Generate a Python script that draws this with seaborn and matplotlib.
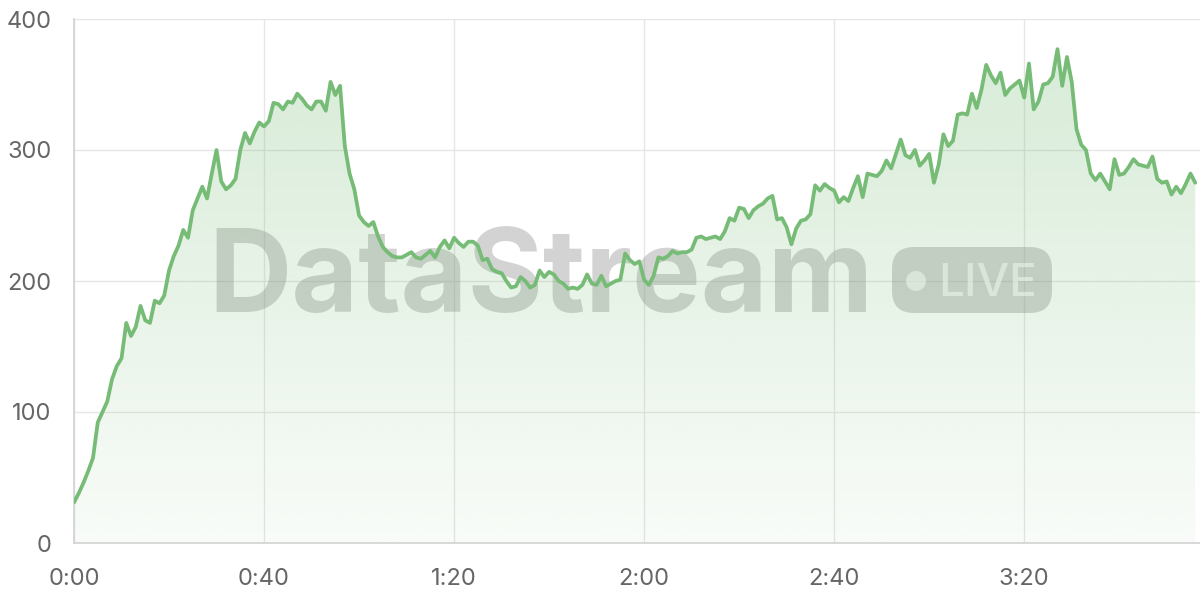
import numpy as np
import matplotlib
matplotlib.use("Agg")
import matplotlib.pyplot as plt
from matplotlib.patches import FancyBboxPatch, Circle
from matplotlib.transforms import IdentityTransform
import seaborn as sns

# viewers per minute over the stream
minutes = np.arange(237)
viewers = [
    31, 38, 46, 55, 65, 92, 100, 108, 125, 135,
    141, 168, 158, 165, 181, 170, 168, 185, 183, 189,
    208, 219, 227, 239, 233, 254, 263, 272, 263, 282,
    300, 276, 270, 273, 278, 300, 313, 305, 314, 321,
    318, 322, 336, 335, 331, 337, 336, 343, 339, 334,
    331, 337, 337, 330, 352, 342, 349, 303, 282, 270,
    250, 245, 242, 245, 234, 226, 222, 219, 218, 218,
    220, 222, 218, 217, 220, 223, 218, 226, 231, 225,
    233, 229, 226, 230, 230, 227, 216, 217, 209, 207,
    206, 200, 195, 196, 203, 200, 195, 197, 208, 203,
    207, 205, 200, 198, 194, 195, 194, 197, 205, 198,
    197, 204, 196, 198, 200, 201, 221, 216, 213, 215,
    201, 197, 204, 218, 217, 219, 223, 221, 222, 222,
    224, 233, 234, 232, 233, 234, 232, 238, 248, 246,
    256, 255, 248, 254, 257, 259, 263, 265, 247, 248,
    241, 228, 240, 246, 247, 251, 273, 269, 274, 271,
    269, 260, 264, 261, 271, 280, 264, 282, 281, 280,
    284, 292, 286, 297, 308, 296, 294, 300, 288, 292,
    297, 275, 289, 312, 303, 307, 327, 328, 327, 343,
    332, 346, 365, 357, 351, 359, 342, 347, 350, 353,
    340, 366, 331, 337, 350, 351, 356, 377, 349, 371,
    352, 316, 304, 300, 282, 277, 282, 276, 270, 293,
    281, 282, 287, 293, 289, 288, 287, 295, 278, 275,
    276, 266, 272, 267, 274, 282, 275,
]
x_ticks = [0, 40, 80, 120, 160, 200]
x_labels = ["0:00", "0:40", "1:20", "2:00", "2:40", "3:20"]
y_ticks = [0, 100, 200, 300, 400]

green = "#76bb76"

sns.set_style("white")
plt.rcParams['font.family'] = ['Inter', 'DejaVu Sans']

fig = plt.figure(figsize=(12, 6), dpi=100)
ax = fig.add_axes([74 / 1200, 57 / 600, 1126 / 1200, 524 / 600])

# gradient area under the line
poly = ax.fill_between(minutes, viewers, 0, color="none", lw=0)
rgba = np.zeros((256, 1, 4))
rgba[..., :3] = matplotlib.colors.to_rgb(green)
rgba[..., 3] = np.linspace(0.30, 0.05, 256).reshape(-1, 1)
im = ax.imshow(rgba, extent=[0, minutes[-1], 0, 400], aspect="auto",
               origin="upper", zorder=1, interpolation="bilinear")
im.set_clip_path(poly.get_paths()[0], transform=ax.transData)

sns.lineplot(x=minutes, y=viewers, color=green, linewidth=2.7, ax=ax, zorder=5)

ax.set_xlim(0, 237)
ax.set_ylim(0, 400)
ax.set_xticks(x_ticks)
ax.set_xticklabels(x_labels)
ax.set_yticks(y_ticks)
ax.grid(True, color="#e6e6e6", lw=1)
ax.set_axisbelow(True)
ax.tick_params(axis="both", length=11, width=1, color="#e6e6e6",
               labelsize=17, labelcolor="#666666")
ax.tick_params(axis="y", pad=5)
ax.tick_params(axis="x", pad=7)
for s in ["top", "right"]:
    ax.spines[s].set_visible(False)
for s in ["left", "bottom"]:
    ax.spines[s].set_color("#d2d2d2")
    ax.spines[s].set_linewidth(1.2)

# watermark, drawn under the gradient fill
px = IdentityTransform()
ax.text(208, 600 - 312, "DataStream", transform=px, fontsize=83,
        fontweight="bold", color="#808080", alpha=0.34, ha="left",
        va="baseline", zorder=0.9)
badge = FancyBboxPatch((892, 600 - 313), 160, 66,
                       boxstyle="round,pad=0,rounding_size=22",
                       transform=px, facecolor="#808080", alpha=0.34,
                       edgecolor="none", zorder=0.9)
ax.add_patch(badge)
ax.add_patch(Circle((916, 600 - 281), 10, transform=px, facecolor="white",
                    alpha=0.65, edgecolor="none", zorder=0.95))
ax.text(938, 600 - 296, "LIVE", transform=px, fontsize=33,
        fontweight="medium", color="white", alpha=0.65, ha="left",
        va="baseline", zorder=0.95)

fig.savefig("out.png", dpi=100)
